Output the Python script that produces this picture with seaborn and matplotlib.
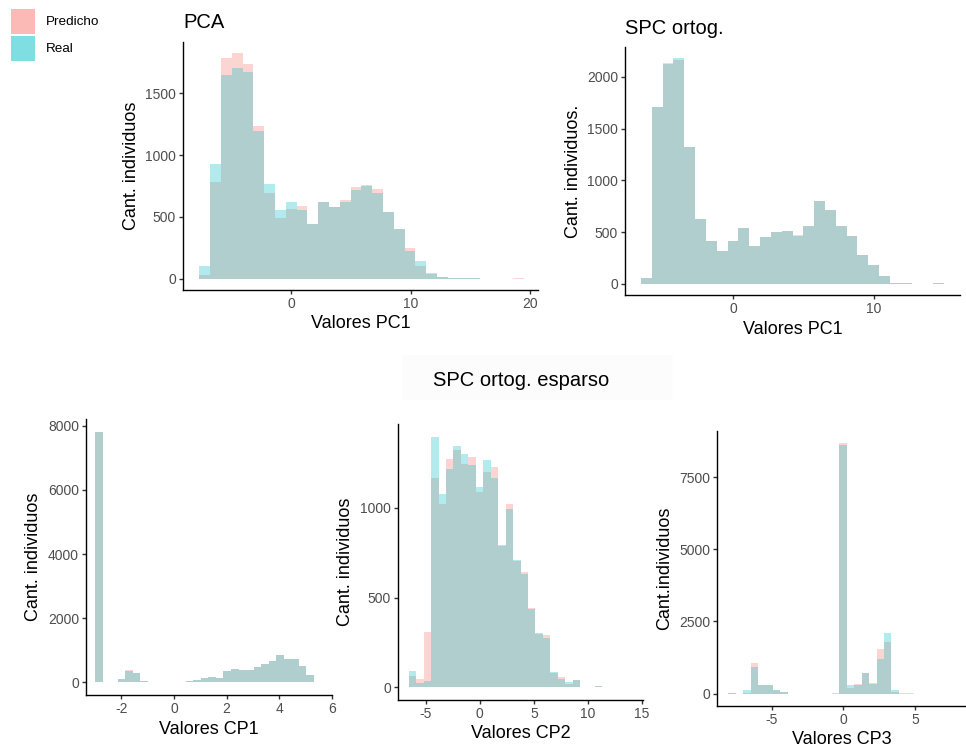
import numpy as np
import pandas as pd
import matplotlib
matplotlib.use("Agg")
import matplotlib.pyplot as plt
from matplotlib.patches import Rectangle
import seaborn as sns

# ---------------- data (bin counts) ----------------
# PCA - Valores PC1 (30 bins)
pca_start, pca_width = -7.69, 0.905
pca_pred = [32, 786, 1785, 1825, 1736, 1234, 691, 489, 567, 589, 440, 618, 581, 637, 743,
            761, 726, 537, 402, 246, 100, 35, 13, 5, 2, 2, 0, 0, 0, 5]
pca_real = [103, 929, 1650, 1706, 1674, 1199, 767, 559, 618, 559, 446, 618, 581, 621, 718,
            753, 697, 537, 402, 227, 140, 43, 13, 4, 4, 4, 0, 0, 0, 0]

# SPC ortog. - Valores PC1 (28 bins)
spc_start, spc_width = -6.51, 0.7665
spc_pred = [58, 1707, 2139, 2165, 1319, 630, 410, 313, 413, 536, 361, 455, 497, 513, 468,
            561, 800, 710, 558, 458, 281, 177, 74, 10, 3, 0, 0, 3]
spc_real = [58, 1707, 2130, 2181, 1319, 626, 410, 313, 413, 536, 361, 455, 497, 513, 465,
            561, 800, 710, 558, 458, 281, 177, 74, 10, 3, 0, 0, 3]

# SPC ortog. esparso - Valores CP1 (29 bins)
cp1_start, cp1_width = -2.99, 0.2864
cp1_pred = [7822, 0, 0, 93, 394, 280, 52, 0, 0, 0, 10, 21, 41, 73, 135, 176, 145, 342, 414,
            373, 383, 487, 570, 663, 870, 746, 746, 528, 228]
cp1_real = [7822, 0, 0, 93, 363, 300, 52, 0, 0, 0, 10, 21, 41, 73, 135, 176, 145, 342, 414,
            373, 383, 487, 570, 663, 850, 725, 746, 528, 228]

# SPC ortog. esparso - Valores CP2 (30 bins)
cp2_start, cp2_width = -6.55, 0.688
cp2_pred = [65, 48, 306, 1165, 1019, 1269, 1319, 1243, 1283, 1085, 1198, 1228, 785, 1022,
            704, 643, 444, 300, 291, 80, 56, 22, 43, 2, 1, 9, 0, 0, 2, 0]
cp2_real = [93, 24, 35, 1396, 1074, 1213, 1341, 1298, 1235, 1113, 1267, 1165, 790, 993,
            711, 630, 435, 304, 276, 87, 48, 28, 39, 2, 1, 9, 0, 0, 0, 2]

# SPC ortog. esparso - Valores CP3 (25 bins)
cp3_start, cp3_width = -8.0, 0.515
cp3_pred = [10, 0, 23, 1058, 288, 288, 115, 35, 0, 0, 0, 0, 0, 0, 0, 8675, 184, 345, 702,
            368, 1553, 1786, 69, 12, 12]
cp3_real = [20, 0, 127, 920, 288, 288, 115, 35, 0, 0, 0, 0, 0, 0, 12, 8606, 299, 288, 702,
            334, 1208, 2085, 127, 0, 0]

series_labels = ["Predicho", "Real"]
PINK = "#F8766D"
TEAL = "#00BFC4"

# ---------------- style ----------------
sns.set_style("ticks")
plt.rcParams['font.family'] = ['Liberation Sans', 'DejaVu Sans']
plt.rcParams['axes.unicode_minus'] = False

W, H = 966, 749
fig = plt.figure(figsize=(W / 100, H / 100), dpi=100)


def rect(l, t, r, b):
    return [l / W, 1 - b / H, (r - l) / W, (b - t) / H]


panels = [
    dict(box=(183, 42, 538, 290), start=pca_start, width=pca_width, pred=pca_pred, real=pca_real,
         xlim=(-9.06, 20.67), xticks=[0, 10, 20], yticks=[0, 500, 1000, 1500],
         xlabel="Valores PC1", ylabel="Cant. individuos"),
    dict(box=(625, 47, 960, 295), start=spc_start, width=spc_width, pred=spc_pred, real=spc_real,
         xlim=(-7.64, 16.08), xticks=[0, 10], yticks=[0, 500, 1000, 1500, 2000],
         xlabel="Valores PC1", ylabel="Cant. individuos."),
    dict(box=(86, 419, 332, 695), start=cp1_start, width=cp1_width, pred=cp1_pred, real=cp1_real,
         xlim=(-3.34, 5.99), xticks=[-2, 0, 2, 4, 6], yticks=[0, 2000, 4000, 6000, 8000],
         xlabel="Valores CP1", ylabel="Cant. individuos"),
    dict(box=(398, 424, 643, 700), start=cp2_start, width=cp2_width, pred=cp2_pred, real=cp2_real,
         xlim=(-7.54, 15.08), xticks=[-5, 0, 5, 10, 15], yticks=[0, 500, 1000],
         xlabel="Valores CP2", ylabel="Cant. individuos"),
    dict(box=(717, 431, 966, 706), start=cp3_start, width=cp3_width, pred=cp3_pred, real=cp3_real,
         xlim=(-8.79, 8.52), xticks=[-5, 0, 5], yticks=[0, 2500, 5000, 7500],
         xlabel="Valores CP3", ylabel="Cant.individuos"),
]

for p in panels:
    l, t, r, b = p["box"]
    ax = fig.add_axes(rect(l, t, r, b))
    n = len(p["pred"])
    edges = [float(p["start"] + p["width"] * k) for k in range(n + 1)]
    centers = [(edges[k] + edges[k + 1]) / 2 for k in range(n)]
    df = pd.DataFrame({
        "valor": centers + centers,
        "conteo": list(p["pred"]) + list(p["real"]),
        "tipo": [series_labels[0]] * n + [series_labels[1]] * n,
    })
    sns.histplot(data=df[df.tipo == "Predicho"], x="valor", weights="conteo", bins=edges,
                 color=PINK, alpha=0.3, linewidth=0, ax=ax)
    sns.histplot(data=df[df.tipo == "Real"], x="valor", weights="conteo", bins=edges,
                 color=TEAL, alpha=0.3, linewidth=0, ax=ax)
    ymax = max(max(p["pred"]), max(p["real"]))
    ax.set_ylim(-0.05 * ymax, 1.05 * ymax)
    ax.set_xlim(*p["xlim"])
    ax.set_xticks(p["xticks"])
    ax.set_yticks(p["yticks"])
    ax.set_xticklabels([str(v) for v in p["xticks"]])
    ax.set_yticklabels([str(v) for v in p["yticks"]])
    sns.despine(ax=ax)
    for s in ("left", "bottom"):
        ax.spines[s].set_linewidth(1.0)
        ax.spines[s].set_color("black")
    ax.tick_params(direction="out", length=3, width=1, color="#333333",
                   labelsize=10, labelcolor="#4D4D4D", pad=2)
    ax.set_xlabel(p["xlabel"], fontsize=13, color="black", va="center")
    ax.set_ylabel(p["ylabel"], fontsize=13, color="black", va="center")
    aw, ah = r - l, b - t
    ax.xaxis.set_label_coords(0.5, -34 / ah)
    ax.yaxis.set_label_coords(-52 / aw, 0.5)
    ax.set_facecolor("white")

# titles
fig.text(183 / W, 1 - 23 / H, "PCA", fontsize=14.5, ha="left", va="center", color="black")
fig.text(625 / W, 1 - 28 / H, "SPC ortog.", fontsize=14.5, ha="left", va="center", color="black")
fig.patches.append(Rectangle((402 / W, 1 - 400 / H), 271 / W, 45 / H, transform=fig.transFigure,
                             facecolor="#FCFCFC", edgecolor="none", zorder=0))
fig.text(521 / W, 1 - 380 / H, "SPC ortog. esparso", fontsize=14.5, ha="center", va="center",
         color="black")

# legend
for i, (lab, col) in enumerate(zip(series_labels, [PINK, TEAL])):
    top = 9.5 + i * 27
    fig.patches.append(Rectangle((10.5 / W, 1 - (top + 24) / H), 24.5 / W, 24 / H,
                                 transform=fig.transFigure, facecolor=col, alpha=0.5,
                                 edgecolor="none"))
    fig.text(45.5 / W, 1 - (top + 12.5) / H, lab, fontsize=9.7, ha="left", va="center",
             color="black")

fig.savefig("out.png", dpi=100)
